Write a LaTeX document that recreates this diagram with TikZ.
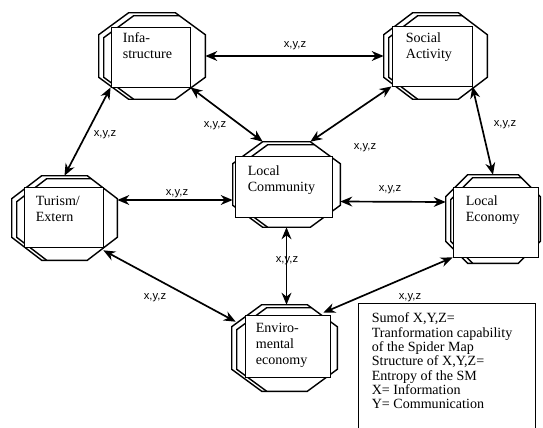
\documentclass[tikz,border=0pt]{standalone}
\usepackage{fontspec}
\setmainfont{Liberation Serif}
\newfontfamily\xyzfont{Liberation Sans}
\usetikzlibrary{positioning,arrows.meta,calc}

% octagon behind a box: node name, chamfer x, chamfer y
\newcommand{\octo}[3]{%
  \draw[octline] ($(#1.north west)+(#2,0)$) -- ($(#1.north east)+(-#2,0)$)
    -- ($(#1.north east)+(0,#3)$) -- ($(#1.south east)+(0,-#3)$)
    -- ($(#1.south east)+(-#2,0)$) -- ($(#1.south west)+(#2,0)$)
    -- ($(#1.south west)+(0,-#3)$) -- ($(#1.north west)+(0,#3)$) -- cycle;
  \draw[octline] ($(#1.south west)+(#2+5,0)$) -- ($(#1.south west)+(5,-#3)$)
    -- ($(#1.north west)+(5,#3+3)$) -- ($(#1.north west)+(#2+5,3)$)
    -- ($(#1.north east)+(-#2+#2*3/#3,3)$);}

\begin{document}
\begin{tikzpicture}[x=0.025cm,y=-0.025cm,
    octa/.style={inner sep=0pt},
    octline/.style={line width=1pt,line join=miter},
    boxr/.style={draw,fill=white,line width=0.6pt,inner sep=0pt},
    txt/.style={anchor=north west,inner sep=0pt,align=left,
                font=\fontsize{10}{11.5}\selectfont},
    xyz/.style={font=\xyzfont\fontsize{8}{9}\selectfont,inner sep=1pt},
    dar/.style={{Stealth[length=8.5pt,width=7pt]}-{Stealth[length=8.5pt,width=7pt]},
                line width=1.2pt}]
  \useasboundingbox (0,0) rectangle (543,427);

  % octagons
  \node[octa,minimum width=2.65cm,minimum height=2.15cm] (infraO) at (152,56) {};
  \node[octa,minimum width=2.575cm,minimum height=2.15cm] (socialO) at (435.5,56) {};
  \node[octa,minimum width=2.675cm,minimum height=2.125cm] (commO) at (286.5,184.5) {};
  \node[octa,minimum width=2.625cm,minimum height=2.1cm] (turismO) at (64.5,218) {};
  \node[octa,minimum width=2.35cm,minimum height=2.2cm] (econO) at (493,219) {};
  \node[octa,minimum width=2.625cm,minimum height=2.15cm] (envO) at (284.5,348) {};
  \octo{infraO}{30}{22}
  \octo{socialO}{29}{22}
  \octo{commO}{30}{22}
  \octo{turismO}{30}{23}
  \octo{econO}{22}{22}
  \octo{envO}{30}{22}

  % boxes
  \node[boxr,minimum width=1.975cm,minimum height=1.5cm] (infraR) at (150.5,57) {};
  \node[boxr,minimum width=2cm,minimum height=1.5cm] (socialR) at (432,56) {};
  \node[boxr,minimum width=2.425cm,minimum height=1.525cm] (commR) at (283.5,186.5) {};
  \node[boxr,minimum width=1.975cm,minimum height=1.5cm] (turismR) at (63.5,217) {};
  \node[boxr,minimum width=2.125cm,minimum height=1.75cm] (econR) at (495.5,222) {};
  \node[boxr,minimum width=2.125cm,minimum height=1.55cm] (envR) at (287.5,346) {};

  \node[txt] (infraT) at ($(infraR.north west)+(12,6)$) {Infa-\\structure};
  \node[txt] (socialT) at ($(socialR.north west)+(14,7)$) {Social\\Activity};
  \node[txt] (commT) at ($(commR.north west)+(13,10)$) {Local\\Community};
  \node[txt] (turismT) at ($(turismR.north west)+(12,9)$) {Turism/\\Extern};
  \node[txt] (econT) at ($(econR.north west)+(13,9)$) {Local\\Economy};
  \node[txt] (envT) at ($(envR.north west)+(11,8)$) {Enviro-\\mental\\economy};

  % legend
  \node[boxr,minimum width=4.425cm,minimum height=3.2cm] (legend) at (446.5,367) {};
  \node[anchor=north west,inner sep=0pt,align=left,
        font=\fontsize{10}{10.2}\selectfont] (legendT)
    at ($(legend.north west)+(14,10)$)
    {Sumof X,Y,Z=\\Tranformation capability\\of the Spider Map\\
     Structure of X,Y,Z=\\Entropy of the SM\\X= Information\\Y= Communication};

  % connectors
  \draw[dar] (infraO.east) -- (socialO.west);
  \draw[dar] (infraR.south west) -- (turismO.north);
  \draw[dar] (infraR.south east) -- ($(commO.north west)+(30,0)$);
  \draw[dar] (socialR.south west) -- ($(commO.north east)+(-30,0)$);
  \draw[dar] (socialR.south east) -- (econO.north);
  \draw[dar] ($(turismO.east)+(0,-18)$) -- ($(commO.west)+(0,15.5)$);
  \draw[dar] ($(commO.east)+(0,17)$) -- ($(econO.west)+(0,-17)$);
  \draw[dar] (commO.south) -- (commO.south |- envO.north);
  \draw[dar] ($(turismO.south east)+(-14,-10)$) -- ($(envO.north west)+(4,17)$);
  \draw[dar] ($(envO.north east)+(-14,8)$) -- (econR.south west);

  % labels
  \node[xyz] (xyz1) at (295,46) {x,y,z};
  \node[xyz] (xyz2) at (105,135) {x,y,z};
  \node[xyz] (xyz3) at (215,126) {x,y,z};
  \node[xyz] (xyz4) at (365,148) {x,y,z};
  \node[xyz] (xyz5) at (505,125) {x,y,z};
  \node[xyz] (xyz6) at (177,194) {x,y,z};
  \node[xyz] (xyz7) at (390,190) {x,y,z};
  \node[xyz] (xyz8) at (287,261) {x,y,z};
  \node[xyz] (xyz9) at (155,298) {x,y,z};
  \node[xyz] (xyz10) at (410,298) {x,y,z};
\end{tikzpicture}
\end{document}
